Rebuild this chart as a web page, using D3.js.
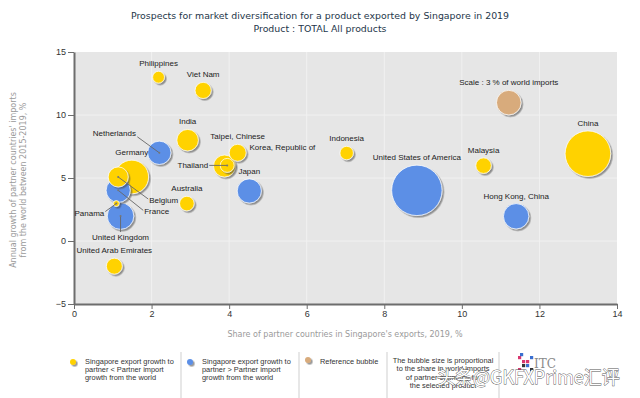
<!DOCTYPE html>
<html><head><meta charset="utf-8">
<script src="https://cdn.jsdelivr.net/npm/d3@7"></script>
<style>html,body{margin:0;padding:0;background:#fff;}svg{display:block;}</style>
</head><body>
<svg id="c" width="640" height="398"></svg>
<script>
// ---- data ----
const countries = ["Philippines","Viet Nam","India","Netherlands","Germany","Belgium","France","Panama","United Kingdom","United Arab Emirates","Australia","Taipei, Chinese","Korea, Republic of","Thailand","Japan","Indonesia","United States of America","Malaysia","Hong Kong, China","China"];
const exportShare = [2.18,3.33,2.93,2.2,1.49,1.14,1.14,1.09,1.2,1.04,2.91,4.22,3.88,3.95,4.52,7.03,8.84,10.56,11.4,13.25];
const importGrowth = [13.0,11.95,8.0,7.0,5.08,5.08,4.02,2.97,1.98,-2.0,2.97,7.0,5.95,6.0,3.97,6.98,4.02,5.98,1.96,6.93];
const worldImportShare = [0.7,1.3,2.3,2.7,5.6,2.0,2.9,0.18,3.5,1.27,1.06,1.43,2.4,0.97,2.9,0.9,12.6,1.2,3.2,10.3];
const group = ["lt","lt","lt","gt","lt","lt","gt","lt","gt","lt","lt","lt","lt","lt","gt","lt","gt","lt","gt","lt"];
const reference = {name:"Scale : 3 % of world imports", x:11.21, y:10.98, size:3};
const xTicks = [0,2,4,6,8,10,12,14];
const yTicks = [-5,0,5,10,15];
const titleLines = ["Prospects for market diversification for a product exported by Singapore in 2019","Product : TOTAL All products"];
const xTitle = "Share of partner countries in Singapore's exports, 2019, %";
const yTitleLines = ["Annual growth of partner countries' imports","from the world between 2015-2019, %"];
const legendBlocks = [
  {key:"lt", lines:["Singapore export growth to","partner < Partner import","growth from the world"]},
  {key:"gt", lines:["Singapore export growth to","partner > Partner import","growth from the world"]},
  {key:"ref", lines:["Reference bubble"]}
];
const noteLines = ["The bubble size is proportional","to the share in world imports","of partner countries for","the selected product"];
const watermark = "头条@GKFXPrime汇评";

// ---- style / layout ----
const colors = {lt:"#FFD200", gt:"#5B8FE6", ref:"#D8AB7C"};
// label placement relative to bubble centre (px); default is centred above the bubble
const labelLayout = {
  "Netherlands": {dx:-45, dy:-17, anchor:"middle", line:[-22,-16]},
  "Belgium": {dx:31, dy:26, anchor:"start", line:[30,22]},
  "France": {dx:26, dy:24, anchor:"start", line:[25,20]},
  "Panama": {dx:-12, dy:12, anchor:"end", line:[-11,8]},
  "United Kingdom": {dx:0, dy:24, anchor:"middle", line:[0,16]},
  "Thailand": {dx:-19, dy:3, anchor:"end", line:[-18,0]},
  "Korea, Republic of": {dx:25, dy:-16, anchor:"start"}
};

const svg = d3.select("#c");
const W = 640, H = 398;
const x = d3.scaleLinear().domain([0,14]).range([74,617]);
const y = d3.scaleLinear().domain([-5,15]).range([304,52]);
const r = d3.scaleSqrt().domain([0,3]).range([0,12.3]);

const defs = svg.append("defs");
const f = defs.append("filter").attr("id","sh").attr("x","-30%").attr("y","-30%").attr("width","160%").attr("height","160%");
f.append("feDropShadow").attr("dx",1.6).attr("dy",1.6).attr("stdDeviation",0.7).attr("flood-color","#444").attr("flood-opacity",0.55);

// plot background
svg.append("rect").attr("x",x(0)).attr("y",y(15)).attr("width",x(14)-x(0)).attr("height",y(-5)-y(15)).attr("fill","#e6e6e6");
// grid
svg.append("g").selectAll("line.gx").data(xTicks.slice(1,-1)).join("line")
  .attr("x1",d=>x(d)).attr("x2",d=>x(d)).attr("y1",y(15)).attr("y2",y(-5)).attr("stroke","#f1f1f1").attr("stroke-width",1);
svg.append("g").selectAll("line.gy").data(yTicks.slice(1,-1)).join("line")
  .attr("y1",d=>y(d)).attr("y2",d=>y(d)).attr("x1",x(0)).attr("x2",x(14)).attr("stroke","#f1f1f1").attr("stroke-width",1);

// axes
const xAxis = svg.append("g").attr("transform",`translate(0,${y(-5)})`)
  .call(d3.axisBottom(x).tickValues(xTicks).tickSizeInner(5).tickSizeOuter(0).tickPadding(2));
const yAxis = svg.append("g").attr("transform",`translate(${x(0)},0)`)
  .call(d3.axisLeft(y).tickValues(yTicks).tickSizeInner(6).tickSizeOuter(0).tickPadding(2));
[xAxis,yAxis].forEach(a=>{
  a.select(".domain").attr("stroke","#6d6d6d").attr("stroke-width",2);
  a.selectAll(".tick line").attr("stroke","#6d6d6d");
  a.selectAll("text").attr("font-family","Liberation Sans, Arial, sans-serif").attr("font-size","9px").attr("fill","#333");
});

// bubbles
const data = countries.map((c,i)=>({name:c, x:exportShare[i], y:importGrowth[i], s:worldImportShare[i], g:group[i]}));
const all = data.concat([{name:reference.name, x:reference.x, y:reference.y, s:reference.size, g:"ref"}]);
const sorted = all.slice().sort((a,b)=>b.s-a.s);
svg.append("g").selectAll("circle").data(sorted).join("circle")
  .attr("cx",d=>x(d.x)).attr("cy",d=>y(d.y)).attr("r",d=>r(d.s))
  .attr("fill",d=>colors[d.g]).attr("stroke","#ffffff").attr("stroke-opacity",0.75).attr("stroke-width",1)
  .attr("filter","url(#sh)");

// leader lines
const lab = svg.append("g");
all.forEach(d=>{
  const L = labelLayout[d.name];
  const cx = x(d.x), cy = y(d.y);
  if (L && L.line){
    lab.append("line").attr("x1",cx).attr("y1",cy).attr("x2",cx+L.line[0]).attr("y2",cy+L.line[1])
      .attr("stroke","#666").attr("stroke-width",0.9);
    lab.append("circle").attr("cx",cx).attr("cy",cy).attr("r",1).attr("fill","#777");
  }
});
// labels
all.forEach(d=>{
  const L = labelLayout[d.name];
  const cx = x(d.x), cy = y(d.y);
  let tx = cx, ty = cy - r(d.s) - 5, anc = "middle";
  if (L){ tx = cx + L.dx; ty = cy + L.dy; anc = L.anchor; }
  lab.append("text").attr("x",tx).attr("y",ty).attr("text-anchor",anc)
    .attr("font-family","Liberation Sans, Arial, sans-serif").attr("font-size","8px").attr("fill","#222")
    .text(d.name);
});

// titles
svg.append("g").selectAll("text").data(titleLines).join("text")
  .attr("x",320).attr("y",(d,i)=>19+i*12.5).attr("text-anchor","middle")
  .attr("font-family","DejaVu Sans, Verdana, sans-serif").attr("font-size","9.4px").attr("fill","#24364a")
  .text(d=>d);
svg.append("text").attr("x",345).attr("y",337).attr("text-anchor","middle")
  .attr("font-family","DejaVu Sans, Verdana, sans-serif").attr("font-size","8px").attr("fill","#9a9a9a").text(xTitle);
svg.append("g").selectAll("text").data(yTitleLines).join("text")
  .attr("transform",(d,i)=>`translate(${15.5+i*10},180) rotate(-90)`).attr("text-anchor","middle")
  .attr("font-family","DejaVu Sans, Verdana, sans-serif").attr("font-size","8px").attr("fill","#9a9a9a").text(d=>d);

// legend
const lg = svg.append("g");
const blockX = [73,190,308];
legendBlocks.forEach((b,i)=>{
  const dx = blockX[i];
  lg.append("circle").attr("cx",dx).attr("cy",i===2?360:362).attr("r",3).attr("fill",colors[b.key]).attr("filter","url(#sh)");
  b.lines.forEach((t,j)=>{
    lg.append("text").attr("x",dx+12).attr("y",364+j*8.2)
      .attr("font-family","Liberation Sans, Arial, sans-serif").attr("font-size","7.4px").attr("fill","#333").text(t);
  });
});
noteLines.forEach((t,j)=>{
  lg.append("text").attr("x",443).attr("y",363+j*8.3).attr("text-anchor","middle")
    .attr("font-family","Liberation Sans, Arial, sans-serif").attr("font-size","7.4px").attr("fill","#333").text(t);
});
[181,299,387,499].forEach(sx=>{
  lg.append("line").attr("x1",sx).attr("x2",sx).attr("y1",352).attr("y2",398).attr("stroke","#cfcfcf").attr("stroke-width",1);
});
// ITC logo (approximation)
const logo = lg.append("g").attr("transform","translate(518,356)");
[[0,0,"#d8366e"],[4,4,"#d8366e"],[8,8,"#3a6fd0"],[12,12,"#333"],[12,0,"#3a6fd0"],[8,4,"#d8366e"],[4,8,"#333"],[0,12,"#d8366e"],[2,-3,"#3a6fd0"]].forEach(p=>{
  logo.append("rect").attr("x",p[0]).attr("y",p[1]).attr("width",3.2).attr("height",3.2).attr("fill",p[2]).attr("transform",`rotate(0)`);
});
lg.append("text").attr("x",534).attr("y",368).attr("font-family","DejaVu Serif, serif").attr("font-size","12px").attr("fill","#8a8a8a").text("ITC");

// watermark
svg.append("text").attr("x",437).attr("y",384)
  .attr("font-family","Noto Sans CJK SC, sans-serif").attr("font-size","18px")
  .attr("fill","#ffffff").attr("stroke","#555").attr("stroke-width",0.8).attr("paint-order","stroke")
  .text(watermark);
</script>
</body></html>
